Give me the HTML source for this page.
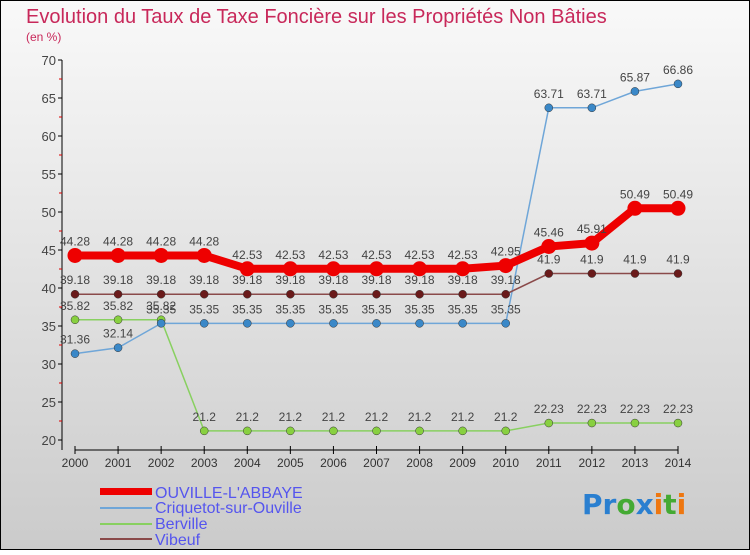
<!DOCTYPE html>
<html><head><meta charset="utf-8"><style>
html,body{margin:0;padding:0}
body{width:750px;height:550px;overflow:hidden;font-family:"Liberation Sans",sans-serif}
</style></head><body>
<svg width="750" height="550" xmlns="http://www.w3.org/2000/svg" font-family="Liberation Sans, sans-serif">
<defs><linearGradient id="bg" x1="0" y1="0" x2="0" y2="1"><stop offset="0" stop-color="#f9f9f9"/><stop offset="1" stop-color="#cbcbcb"/></linearGradient></defs>
<rect x="0.5" y="0.5" width="749" height="549" fill="url(#bg)" stroke="#000"/>
<text x="26" y="23" font-size="20" fill="#c8285a">Evolution du Taux de Taxe Foncière sur les Propriétés Non Bâties</text>
<text x="26" y="41" font-size="12" fill="#c8285a">(en %)</text>
<g id="axes"></g>
<g id="series"></g>
<g font-size="16" fill="#5555ee">
<rect x="100" y="488" width="52" height="7" fill="#e00"/>
<text x="155" y="498">OUVILLE-L'ABBAYE</text>
<line x1="100" y1="508" x2="152" y2="508" stroke="#6fa6d8" stroke-width="2"/>
<text x="155" y="513">Criquetot-sur-Ouville</text>
<line x1="100" y1="524" x2="152" y2="524" stroke="#88d060" stroke-width="2"/>
<text x="155" y="529">Berville</text>
<line x1="100" y1="539" x2="152" y2="539" stroke="#8a4a4a" stroke-width="2"/>
<text x="155" y="545">Vibeuf</text>
</g>
<text x="582" y="514" font-size="28" font-weight="bold" font-family="DejaVu Sans, sans-serif"><tspan fill="#2a7fd0">Pr</tspan><tspan fill="#44aa33">o</tspan><tspan fill="#2a7fd0">x</tspan><tspan fill="#ee7711">i</tspan><tspan fill="#44aa33">t</tspan><tspan fill="#ee7711">i</tspan></text>
</svg>
<script>
const years=[2000,2001,2002,2003,2004,2005,2006,2007,2008,2009,2010,2011,2012,2013,2014];
const ouville=[44.28,44.28,44.28,44.28,42.53,42.53,42.53,42.53,42.53,42.53,42.95,45.46,45.91,50.49,50.49];
const criquetot=[31.36,32.14,35.35,35.35,35.35,35.35,35.35,35.35,35.35,35.35,35.35,63.71,63.71,65.87,66.86];
const berville=[35.82,35.82,35.82,21.2,21.2,21.2,21.2,21.2,21.2,21.2,21.2,22.23,22.23,22.23,22.23];
const vibeuf=[39.18,39.18,39.18,39.18,39.18,39.18,39.18,39.18,39.18,39.18,39.18,41.9,41.9,41.9,41.9];
const yTicks=[20,25,30,35,40,45,50,55,60,65,70];
const NS='http://www.w3.org/2000/svg';
const xs=i=>75+i*(603/14);
const ys=v=>440-(v-20)*7.6;
function mk(t,a,p){const e=document.createElementNS(NS,t);for(const k in a)e.setAttribute(k,a[k]);p.appendChild(e);return e;}
const ax=document.getElementById('axes');
const yl=mk('line',{x1:62,y1:60,x2:62,y2:450,stroke:'#000'},ax);


const xl=mk('line',{x1:75,y1:450,x2:678,y2:450,stroke:'#000'},ax);


yTicks.forEach((v,i)=>{
 mk('line',{x1:58,y1:ys(v),x2:62,y2:ys(v),stroke:'#000'},ax);
 if(i<yTicks.length-1)mk('line',{x1:59,y1:ys(v+2.5),x2:62,y2:ys(v+2.5),stroke:'#d00'},ax);
 const t=mk('text',{x:56,y:ys(v)+5,'text-anchor':'end','font-size':13,fill:'#444'},ax);
 
 
 t.textContent=v;
});
years.forEach((y,i)=>{
 mk('line',{x1:xs(i),y1:446,x2:xs(i),y2:454,stroke:'#000'},ax);
 const t=mk('text',{x:xs(i),y:467,'text-anchor':'middle','font-size':12,fill:'#333'},ax);
 
 
 t.textContent=y;
});
const sg=document.getElementById('series');
function draw(name,vals,color,w,r,dot){
 const g=mk('g',{},sg);
 
 
 mk('polyline',{points:vals.map((v,i)=>xs(i)+','+ys(v)).join(' '),fill:'none',stroke:color,'stroke-width':w},g);
 vals.forEach((v,i)=>{
  const c=mk('circle',{cx:xs(i),cy:ys(v),r:r,fill:dot,stroke:color==='#e00'?'#e00':'#333','stroke-width':color==='#e00'?0:0.5},g);
  
  
  const t=mk('text',{x:xs(i),y:ys(v)-10,'text-anchor':'middle','font-size':12,fill:'#444'},g);
  
  
  t.textContent=v;
 });
}
draw('series-berville',berville,'#88d060',1.5,4,'#88d040');
draw('series-criquetot',criquetot,'#6fa6d8',1.5,4,'#3a88c8');
draw('series-vibeuf',vibeuf,'#8a4a4a',1.5,4,'#6a1a1a');
draw('series-ouville',ouville,'#e00',8,7.5,'#e00');
</script>
</body></html>
